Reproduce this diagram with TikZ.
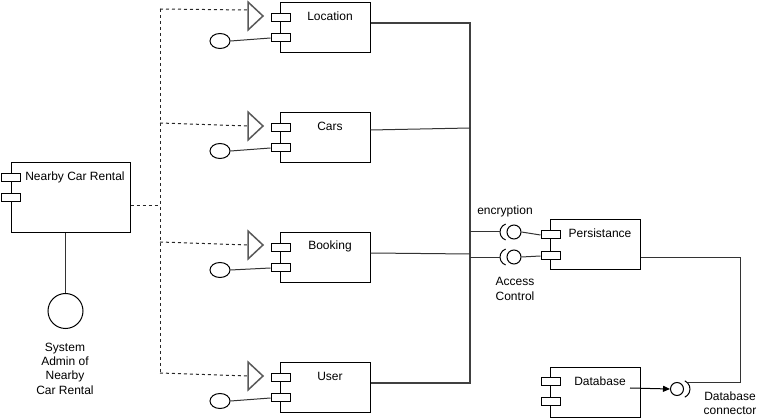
\documentclass[tikz,border=0pt]{standalone}
\usepackage{fontspec}
\setmainfont{Liberation Sans}
\usetikzlibrary{shapes.geometric,arrows.meta}

\tikzset{
  comp/.style={draw, minimum width=90pt, minimum height=50pt, inner sep=0pt},
  port/.style={draw, fill=white, minimum width=19pt, minimum height=8pt, inner sep=0pt},
  lolli/.style={draw, ellipse, minimum width=20pt, minimum height=15pt, inner sep=0pt},
  ball/.style={draw, circle, minimum size=14pt, inner sep=0pt},
  title/.style={inner sep=0pt, font=\fontsize{12}{14}\selectfont},
  dep/.style={draw=black!85, dash pattern=on 3pt off 3pt},
  link/.style={draw=black!80},
  bus/.style={line width=2.5pt, draw=black!75},
  provided/.style={draw=black!65, line width=1.5pt, fill=white}
}

\begin{document}
\begin{tikzpicture}[x=1pt, y=-1pt, line width=1pt]
    \useasboundingbox (0,0) rectangle (761,419);

    % main system and its admin
    \node[comp, minimum width=119pt, minimum height=70pt] (rental) at (70.5,198) {};
    \node[title] (rental-name) at (75,177) {Nearby Car Rental};
    \node[port] (rental-p1) at (10.5,178) {};
    \node[port] (rental-p2) at (10.5,198) {};
    \node[draw, circle, minimum size=35pt, inner sep=0pt] (admin) at (65.5,311) {};
    \draw[link] ([xshift=-5pt]rental.south) -- (admin.north);
    \node[title, align=center, font=\fontsize{12}{14.3}\selectfont] (admin-name) at (65,368.5)
        {System\\Admin of\\Nearby\\Car Rental};

    % Location
    \node[comp] (loc) at (325,28) {};
    \node[title] (loc-name) at ([xshift=5pt, yshift=-14pt]loc.north) {Location};
    \node[port] (loc-p1) at (280.5,18) {};
    \node[port] (loc-p2) at (280.5,38) {};
    \coordinate (loc-tri) at (248,16);
    \draw[provided] (loc-tri) ++(0,-14) -- ++(15,14) -- ++(-15,14) -- cycle;
    \node[lolli] (loc-req) at (220,41) {};
    \draw[link] (loc-req.east) -- (loc-p2.west);

    % Cars
    \node[comp] (cars) at (325,138) {};
    \node[title] (cars-name) at ([xshift=5pt, yshift=-14pt]cars.north) {Cars};
    \node[port] (cars-p1) at (280.5,128) {};
    \node[port] (cars-p2) at (280.5,148) {};
    \coordinate (cars-tri) at (248,126);
    \draw[provided] (cars-tri) ++(0,-14) -- ++(15,14) -- ++(-15,14) -- cycle;
    \node[lolli] (cars-req) at (220,151) {};
    \draw[link] (cars-req.east) -- (cars-p2.west);

    % Booking
    \node[comp] (book) at (325,258) {};
    \node[title] (book-name) at ([xshift=5pt, yshift=-14pt]book.north) {Booking};
    \node[port] (book-p1) at (280.5,248) {};
    \node[port] (book-p2) at (280.5,268) {};
    \coordinate (book-tri) at (248,245);
    \draw[provided] (book-tri) ++(0,-14) -- ++(15,14) -- ++(-15,14) -- cycle;
    \node[lolli] (book-req) at (220,270) {};
    \draw[link] (book-req.east) -- (book-p2.west);

    % User
    \node[comp] (user) at (325,388) {};
    \node[title] (user-name) at ([xshift=5pt, yshift=-14pt]user.north) {User};
    \node[port] (user-p1) at (280.5,378) {};
    \node[port] (user-p2) at (280.5,398) {};
    \coordinate (user-tri) at (248,376);
    \draw[provided] (user-tri) ++(0,-14) -- ++(15,14) -- ++(-15,14) -- cycle;
    \node[lolli] (user-req) at (220,401) {};
    \draw[link] (user-req.east) -- (user-p2.west);

    % dependencies from the system
    \coordinate (spine-top) at (160,9);
    \coordinate (spine-bot) at (160,373);
    \draw[dep] (spine-top) -- (spine-bot);
    \draw[dep] ([yshift=-8pt]rental.east) -- (spine-top |- 0,206);
    \draw[dep] (spine-top) -- ([yshift=6pt]loc-tri);
    \draw[dep] (160,123) -- (cars-tri);
    \draw[dep] (160,242) -- (book-tri);
    \draw[dep] (spine-bot) -- (user-tri);

    % bus to persistance
    \coordinate (bus-top) at (470,23);
    \coordinate (bus-bot) at (470,383);
    \coordinate (bus-cars) at (470,128);
    \coordinate (bus-book) at (470,254);
    \coordinate (bus-enc) at (470,232);
    \coordinate (bus-acc) at (470,258);
    \draw[bus, line join=miter] ([yshift=5pt]loc.east) -- (bus-top) -- (bus-bot) -- ([yshift=5pt]user.east);
    \draw[link] ([yshift=8pt]cars.east) -- (bus-cars);
    \draw[link] ([yshift=5pt]book.east) -- (bus-book);

    % Persistance
    \node[comp] (pers) at (595,245) {};
    \node[title] (pers-name) at ([xshift=5pt, yshift=-14pt]pers.north) {Persistance};
    \node[port] (pers-p1) at (550.5,235) {};
    \node[port] (pers-p2) at (550.5,256) {};

    \node[ball] (enc) at (514,232) {};
    \draw ([xshift=-5.5pt]enc.center) ++(110:8.5) arc (110:250:8.5);
    \draw[link] (bus-enc) -- (500,232);
    \draw[link] (enc.east) -- (pers-p1.west);
    \node[title] (enc-name) at (505,211) {encryption};

    \node[ball] (acc) at (514,257) {};
    \draw ([xshift=-5.5pt]acc.center) ++(110:8.5) arc (110:250:8.5);
    \draw[link] (bus-acc) -- (500,258);
    \draw[link] (acc.east) -- (pers-p2.west);
    \node[title, align=center, font=\fontsize{12}{15}\selectfont] (acc-name) at (515,288.5) {Access\\Control};

    % Database
    \node[comp] (db) at (595,393) {};
    \node[title] (db-name) at ([xshift=5pt, yshift=-14pt]db.north) {Database};
    \node[port] (db-p1) at (550.5,382) {};
    \node[port] (db-p2) at (550.5,402) {};
    \coordinate (db-out) at (630,388);
    \node[ball, minimum size=13pt] (dbc) at (677,389) {};
    \draw ([xshift=4pt]dbc.center) ++(-65:9) arc (-65:65:9);
    \draw[-{Triangle[length=7pt, width=6pt]}] (db-out) -- (dbc.west);
    \coordinate (dbc-end) at (688,383);
    \draw[link] ([yshift=-13pt]pers.east) -| ([xshift=52pt]dbc-end) -- (dbc-end);
    \node[title, align=center] (dbc-name) at (730,403) {Database\\connector};
\end{tikzpicture}
\end{document}
